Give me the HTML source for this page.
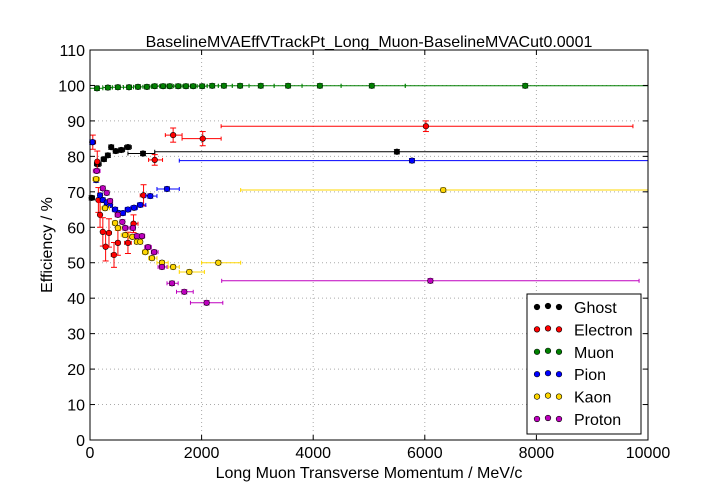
<!DOCTYPE html>
<html><head><meta charset="utf-8"><style>
body{margin:0;background:#fff}
svg{display:block;font-family:"Liberation Sans","DejaVu Sans",sans-serif}
</style></head><body>
<svg id="c" width="720" height="504"></svg>
<script>
const xTicks=[0,2000,4000,6000,8000,10000];
const yTicks=[0,10,20,30,40,50,60,70,80,90,100,110];
const names=["Ghost","Electron","Muon","Pion","Kaon","Proton"];
const colors=["#000000","#ff0000","#008000","#0000ff","#ffd700","#bf00bf"];
const ghostX=[30,140,250,320,380,460,560,680,950,5500];
const ghostY=[68.3,77.8,79.2,80.3,82.6,81.5,81.8,82.6,80.8,81.3];
const ghostLo=[0,80,200,290,350,420,520,620,680,1160];
const ghostHi=[80,200,290,350,420,520,620,740,1160,10000];
const eleX=[50,130,150,180,230,280,340,430,500,680,780,960,1160,1490,2020,6020];
const eleY=[84,78.5,67.7,63.5,58.7,54.5,58.4,52.2,55.6,55.6,61,69,79,86,85,88.5];
const eleLo=[0,100,120,160,200,250,300,380,460,620,740,900,1050,1350,1650,2350];
const eleHi=[100,160,180,200,250,300,380,460,540,740,860,1050,1300,1650,2350,9730];
const eleE=[2,3,3.5,3.5,4,4,4,3.5,3.5,3,2.5,3,1.5,2,2,1.5];
const muX=[125,320,500,700,860,1020,1160,1310,1430,1580,1720,1850,2010,2190,2400,2690,3060,3550,4120,5050,7800];
const muY=[99.2,99.4,99.5,99.5,99.6,99.6,99.8,99.8,99.8,99.8,99.8,99.8,99.8,99.9,99.9,99.9,99.9,99.9,99.9,99.9,99.9];
const muLo=[0,230,400,600,780,950,1100,1250,1380,1500,1650,1800,1920,2100,2300,2550,2850,3300,3800,4500,5650];
const muHi=[230,400,600,780,950,1100,1250,1380,1500,1650,1800,1920,2100,2300,2550,2850,3300,3800,4500,5650,10000];
const piX=[40,110,180,230,300,360,450,520,590,680,790,900,1080,1380,5770];
const piY=[84,73.3,69,67.7,67,66.3,65,64,64,65,65.5,66.3,68.8,70.8,70.2];
const piLo=[0,80,150,200,260,330,400,480,550,630,730,850,1000,1200,1600];
const piHi=[80,150,200,260,330,400,480,550,630,730,850,1000,1200,1600,10000];
const piY2=[84,73.3,69,67.7,67,66.3,65,64,64,65,65.5,66.3,68.8,70.8,78.8];
const kaX=[110,270,450,500,630,760,840,900,990,1110,1290,1490,1780,2300,6330];
const kaY=[73.6,65.4,61.2,59.8,57.8,57.3,55.9,55.9,53,51.3,50,48.8,47.4,50,70.5];
const kaLo=[50,200,400,470,560,700,800,870,940,1050,1200,1400,1600,2000,2700];
const kaHi=[170,350,480,560,700,800,870,940,1050,1200,1400,1600,2050,2700,10000];
const prX=[120,230,300,360,500,580,630,770,840,930,1040,1150,1290,1470,1690,2090,6100];
const prY=[75.9,71,69.7,67.4,63.5,61.5,59.8,59.8,57.5,57.5,54.4,53,48.8,44.2,41.8,38.7,44.9];
const prLo=[60,200,270,330,450,540,610,700,800,880,980,1100,1220,1380,1550,1800,2360];
const prHi=[180,260,330,400,540,610,700,800,880,980,1100,1220,1380,1580,1850,2380,9840];
const series=[
 [ghostX,ghostY,ghostLo,ghostHi,null],
 [eleX,eleY,eleLo,eleHi,eleE],
 [muX,muY,muLo,muHi,null],
 [piX,piY2,piLo,piHi,null],
 [kaX,kaY,kaLo,kaHi,null],
 [prX,prY,prLo,prHi,null]];
const X0=90,X1=648,Y0=440,Y1=50;
const sx=v=>X0+(v/10000)*(X1-X0);
const sy=v=>Y0-(v/110)*(Y0-Y1);
const svg=document.getElementById('c');
const NS="http://www.w3.org/2000/svg";
function mk(t,a,p){const e=document.createElementNS(NS,t);for(const k in a)e.setAttribute(k,a[k]);(p||svg).appendChild(e);return e;}
const grid=mk('g',{});


xTicks.forEach(v=>{if(v>0&&v<10000)mk('line',{x1:sx(v),x2:sx(v),y1:Y1,y2:Y0,stroke:'#aaa','stroke-dasharray':'1,3'},grid);});
yTicks.forEach(v=>{if(v>0&&v<110)mk('line',{x1:X0,x2:X1,y1:sy(v),y2:sy(v),stroke:'#aaa','stroke-dasharray':'1,3'},grid);});
series.forEach((s,si)=>{
  const g=mk('g',{});
  
  
  const [xs,ys,lo,hi,ee]=s;const c=colors[si];
  xs.forEach((x,i)=>{
    const e=ee?ee[i]:0.6;
    mk('line',{x1:sx(lo[i]),x2:sx(hi[i]),y1:sy(ys[i]),y2:sy(ys[i]),stroke:c,'stroke-width':1},g);
    mk('line',{x1:sx(lo[i]),x2:sx(lo[i]),y1:sy(ys[i])-2,y2:sy(ys[i])+2,stroke:c},g);
    mk('line',{x1:sx(hi[i]),x2:sx(hi[i]),y1:sy(ys[i])-2,y2:sy(ys[i])+2,stroke:c},g);
    mk('line',{x1:sx(x),x2:sx(x),y1:sy(ys[i]+e),y2:sy(ys[i]-e),stroke:c},g);
    mk('line',{x1:sx(x)-3,x2:sx(x)+3,y1:sy(ys[i]+e),y2:sy(ys[i]+e),stroke:c},g);
    mk('line',{x1:sx(x)-3,x2:sx(x)+3,y1:sy(ys[i]-e),y2:sy(ys[i]-e),stroke:c},g);
    const p=mk('circle',{cx:sx(x),cy:sy(ys[i]),r:2.8,fill:c,stroke:'#000','stroke-width':0.6},g);
    
    
  });
});
mk('rect',{x:X0,y:Y1,width:X1-X0,height:Y0-Y1,fill:'none',stroke:'#000'});
const ax=mk('g',{});


xTicks.forEach(v=>{mk('line',{x1:sx(v),x2:sx(v),y1:Y0,y2:Y0-5,stroke:'#000'},ax);mk('line',{x1:sx(v),x2:sx(v),y1:Y1,y2:Y1+5,stroke:'#000'},ax);
 const t=mk('text',{x:sx(v),y:Y0+18,'text-anchor':'middle','font-size':16},ax);t.textContent=v;});
const ay=mk('g',{});


yTicks.forEach(v=>{mk('line',{x1:X0,x2:X0+5,y1:sy(v),y2:sy(v),stroke:'#000'},ay);mk('line',{x1:X1,x2:X1-5,y1:sy(v),y2:sy(v),stroke:'#000'},ay);
 const t=mk('text',{x:X0-5,y:sy(v)+6,'text-anchor':'end','font-size':16},ay);t.textContent=v;});
const ti=mk('text',{x:369,y:47,'text-anchor':'middle','font-size':16});ti.textContent='BaselineMVAEffVTrackPt_Long_Muon-BaselineMVACut0.0001';

const xl=mk('text',{x:369,y:478,'text-anchor':'middle','font-size':16});xl.textContent='Long Muon Transverse Momentum / MeV/c';

const yl=mk('text',{x:52,y:245,'text-anchor':'middle','font-size':16,transform:'rotate(-90 52 245)'});yl.textContent='Efficiency / %';

const lg=mk('g',{});


mk('rect',{x:527,y:294,width:114,height:140,fill:'#fff',stroke:'#000'},lg);
names.forEach((n,i)=>{const y=307+i*22.4;
 [537,548,559].forEach((x,k)=>mk('circle',{cx:x,cy:y-(k==1?1:0),r:2.8,fill:colors[i],stroke:'#000','stroke-width':0.6},lg));
 const t=mk('text',{x:574,y:y+6,'font-size':16},lg);t.textContent=n;
 });
</script>
</body></html>
